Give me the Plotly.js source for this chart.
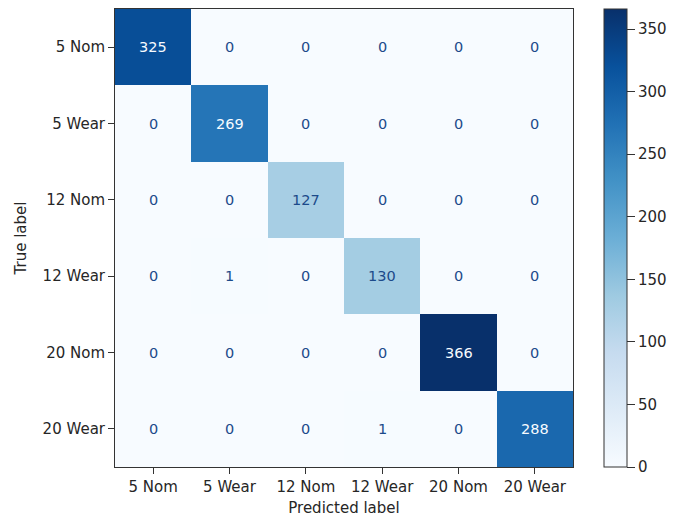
<!DOCTYPE html>
<html><head><meta charset="utf-8">
<script src="https://cdn.plot.ly/plotly-3.0.1.min.js"></script>
<style>html,body{margin:0;padding:0;background:#fff}</style>
</head><body><div id="chart" style="width:686px;height:520px"></div>
<script>
const labels = ["5 Nom","5 Wear","12 Nom","12 Wear","20 Nom","20 Wear"];
const matrix = [
  [325,0,0,0,0,0],
  [0,269,0,0,0,0],
  [0,0,127,0,0,0],
  [0,1,0,130,0,0],
  [0,0,0,0,366,0],
  [0,0,0,1,0,288]
];
const cbTicks = [0,50,100,150,200,250,300,350];
const blues = [[0,"#f7fbff"],[0.125,"#deebf7"],[0.25,"#c6dbef"],[0.375,"#9ecae1"],[0.5,"#6baed6"],[0.625,"#4292c6"],[0.75,"#2171b5"],[0.875,"#08519c"],[1,"#08306b"]];
const zmax = Math.max(...matrix.flat());
const annotations = [];
matrix.forEach((row,i)=>row.forEach((v,j)=>{
  annotations.push({x:labels[j], y:labels[i], text:String(v), showarrow:false,
    font:{family:"DejaVu Sans", size:14.5, color: v > zmax/2 ? "#f7fbff" : "#1c4a8a"}});
}));
const font = {family:"DejaVu Sans", size:15, color:"#262626"};
Plotly.newPlot("chart", [{
  type:"heatmap", x:labels, y:labels, z:matrix, zmin:0, zmax:zmax,
  colorscale:blues, xgap:0, ygap:0, hoverinfo:"skip",
  colorbar:{x:1.0677, xanchor:"left", thickness:23, len:1, lenmode:"fraction", y:0.5, yanchor:"middle",
    xpad:0, ypad:0,
    outlinewidth:1, outlinecolor:"#333", ticks:"outside", ticklen:8, tickcolor:"#333",
    tickvals:cbTicks, tickfont:font}
}], {
  width:686, height:520,
  margin:{l:115, r:113, t:9, b:53},
  paper_bgcolor:"#fff", plot_bgcolor:"#fff",
  font:font,
  xaxis:{type:"category", showline:true, mirror:true, linecolor:"#333", linewidth:1,
    ticks:"outside", ticklen:6, tickcolor:"#333", showgrid:false, zeroline:false,
    title:{text:"Predicted label", font:font, standoff:7}},
  yaxis:{type:"category", autorange:"reversed", showline:true, mirror:true, linecolor:"#333", linewidth:1,
    ticks:"outside", ticklen:6, tickcolor:"#333", showgrid:false, zeroline:false,
    title:{text:"True label", font:font, standoff:12}},
  annotations:annotations
}, {displayModeBar:false, staticPlot:true});
</script></body></html>
